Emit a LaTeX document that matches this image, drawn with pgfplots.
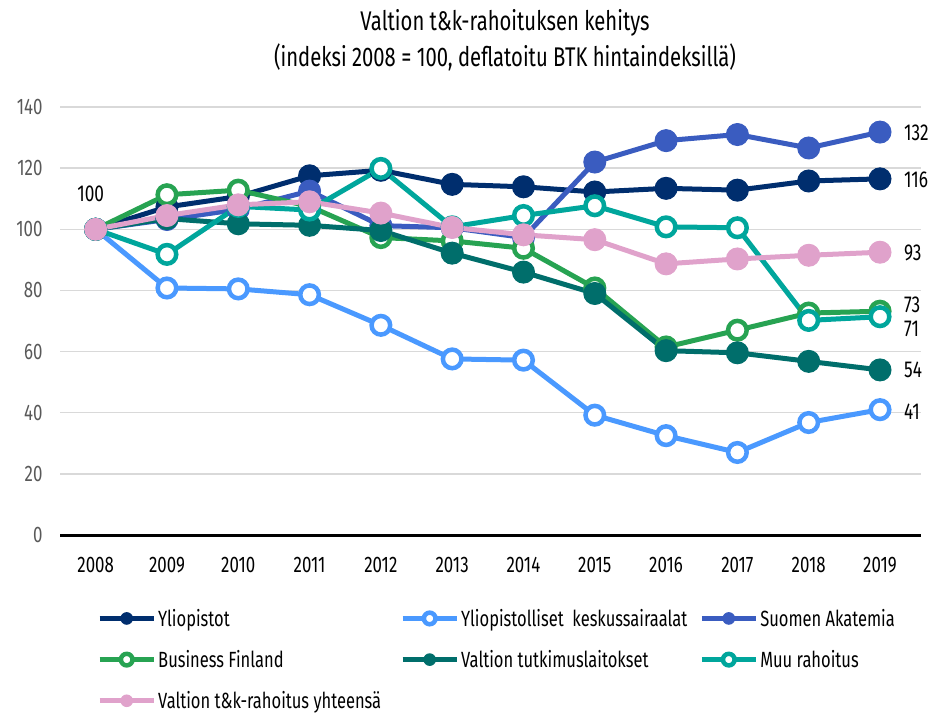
\documentclass[border=0pt]{standalone}
\usepackage{fontspec}
\setmainfont{Fira Sans}[FakeStretch=0.75]
\usepackage{pgfplots}
\pgfplotsset{compat=1.18}
\definecolor{cYlio}{HTML}{002E6E}
\definecolor{cKesk}{HTML}{4A99FF}
\definecolor{cAka}{HTML}{3A5CC0}
\definecolor{cBF}{HTML}{27A352}
\definecolor{cVTL}{HTML}{006E6B}
\definecolor{cMuu}{HTML}{00A69C}
\definecolor{cTot}{HTML}{E0A2CB}
\definecolor{cGrid}{HTML}{D9D9D9}
\definecolor{cTick}{HTML}{595959}
\begin{document}
\begin{tikzpicture}
\path[use as bounding box] (0pt,0pt) rectangle (934pt,-713pt);
\node[font=\fontsize{27}{31}\selectfont] at (505pt,-23pt) {Valtion t\&k-rahoituksen kehitys};
\node[font=\fontsize{27}{31}\selectfont] at (505pt,-57pt) {(indeksi 2008 = 100, deflatoitu BTK hintaindeksillä)};
\begin{axis}[
  at={(60pt,-535pt)}, anchor=south west,
  scale only axis, width=861pt, height=428pt,
  xmin=2007.5, xmax=2019.575, ymin=0, ymax=140,
  xtick={2008,...,2019}, ytick={0,20,...,140},
  /pgf/number format/assume math mode=true,
  xticklabel style={/pgf/number format/1000 sep={}, font=\fontsize{22.5}{26}\selectfont, text=black, yshift=-19pt},
  yticklabel style={font=\fontsize{22.5}{26}\selectfont, text=cTick, xshift=-14pt},
  major tick length=0pt,
  ymajorgrids, major grid style={cGrid, line width=1.5pt},
  axis x line*=bottom, axis y line*=left,
  x axis line style={-, black, line width=3pt},
  y axis line style={draw=none},
  clip=false,
  legend columns=3,
  legend style={at={(0.043,-0.168)}, anchor=north west, draw=none, fill=none,
    font=\fontsize{22}{25}\selectfont, inner sep=0pt,
    /tikz/column 2/.append style={column sep=17pt},
    /tikz/column 4/.append style={column sep=10pt},
    /tikz/row sep=18.5pt, cells={anchor=west}},
  legend image code/.code={\draw[mark repeat=2,mark phase=2,#1] plot coordinates {(0pt,0pt) (27pt,0pt) (54pt,0pt)};},
  legend image post style={mark size=5.8pt},
  every axis plot/.append style={line width=5pt},
]
\addplot[cYlio, mark=*, mark size=11pt, mark options={fill=cYlio, draw=cYlio, line width=1pt}] coordinates {
(2008,100) (2009,107.3) (2010,110.7) (2011,117.5) (2012,119.3) (2013,114.7) (2014,113.9) (2015,112.2) (2016,113.4) (2017,112.8) (2018,115.8) (2019,116.5)};
\addlegendentry{Yliopistot}
\addplot[cKesk, mark=*, mark size=9.3pt, mark options={fill=white, draw=cKesk, line width=4.5pt}] coordinates {
(2008,100) (2009,80.8) (2010,80.5) (2011,78.6) (2012,68.6) (2013,57.6) (2014,57.2) (2015,39.2) (2016,32.5) (2017,27.0) (2018,36.8) (2019,41.0)};
\addlegendentry{Yliopistolliset\ \ keskussairaalat}
\addplot[cAka, mark=*, mark size=11pt, mark options={fill=cAka, draw=cAka, line width=1pt}] coordinates {
(2008,100) (2009,103.2) (2010,106.5) (2011,112.5) (2012,101.2) (2013,100.5) (2014,97.3) (2015,122.0) (2016,129.0) (2017,131.0) (2018,126.6) (2019,131.8)};
\addlegendentry{Suomen Akatemia}
\addplot[cBF, mark=*, mark size=9.3pt, mark options={fill=white, draw=cBF, line width=4.5pt}] coordinates {
(2008,100) (2009,111.3) (2010,112.8) (2011,107.5) (2012,97.3) (2013,96.2) (2014,93.8) (2015,80.8) (2016,61.5) (2017,67.0) (2018,72.6) (2019,73.2)};
\addlegendentry{Business Finland}
\addplot[cVTL, mark=*, mark size=11pt, mark options={fill=cVTL, draw=cVTL, line width=1pt}] coordinates {
(2008,100) (2009,103.5) (2010,101.8) (2011,101.3) (2012,99.6) (2013,92.2) (2014,86.0) (2015,79.0) (2016,60.3) (2017,59.6) (2018,56.8) (2019,54.0)};
\addlegendentry{Valtion tutkimuslaitokset}
\addplot[cMuu, mark=*, mark size=9.3pt, mark options={fill=white, draw=cMuu, line width=4.5pt}] coordinates {
(2008,100) (2009,91.8) (2010,107.5) (2011,106.3) (2012,119.9) (2013,100.8) (2014,104.5) (2015,107.7) (2016,100.8) (2017,100.5) (2018,70.2) (2019,71.4)};
\addlegendentry{Muu rahoitus}
\addplot[cTot, mark=*, mark size=11pt, mark options={fill=cTot, draw=cTot, line width=1pt}] coordinates {
(2008,100) (2009,104.5) (2010,108.0) (2011,109.0) (2012,105.3) (2013,100.6) (2014,98.2) (2015,96.6) (2016,88.7) (2017,90.3) (2018,91.5) (2019,92.5)};
\addlegendentry{Valtion t\&k-rahoitus yhteensä}
\begin{scope}[every node/.style={font=\fontsize{23}{27}\selectfont, anchor=west, inner sep=0pt, xshift=24pt}]
\node at (axis cs:2019,131.4) {132};
\node at (axis cs:2019,116.1) {116};
\node at (axis cs:2019,92.2) {93};
\node at (axis cs:2019,75.3) {73};
\node at (axis cs:2019,67.3) {71};
\node at (axis cs:2019,54.0) {54};
\node at (axis cs:2019,40.3) {41};
\end{scope}
\node[font=\fontsize{23}{27}\selectfont, inner sep=0pt] at (axis cs:2007.93,111.7) {100};
\end{axis}
\end{tikzpicture}
\end{document}
